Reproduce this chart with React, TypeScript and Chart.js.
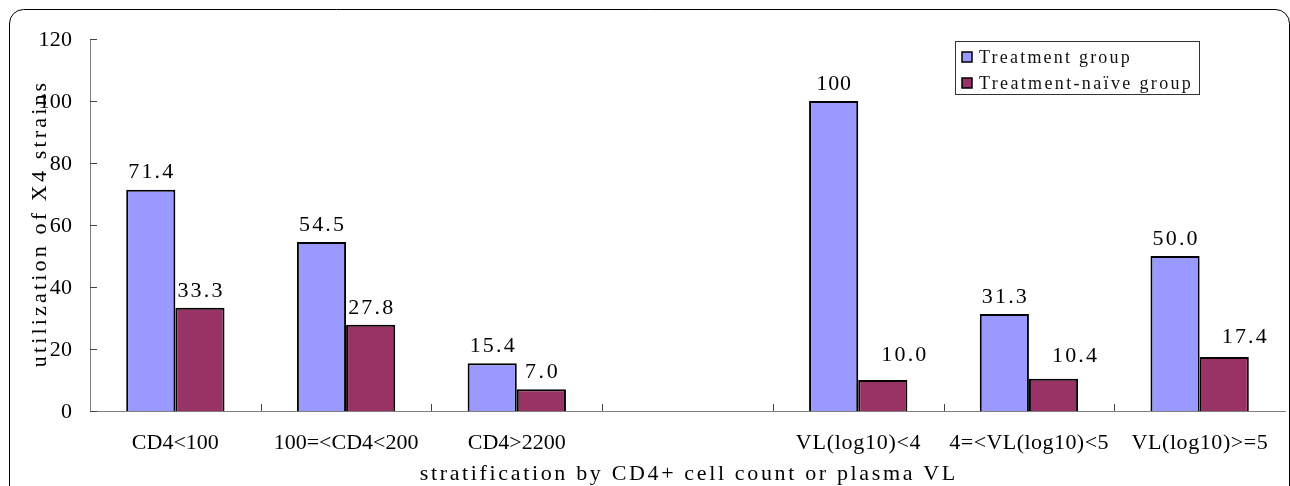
import React, { useEffect, useRef } from "react";
import { Chart, registerables } from "chart.js";

Chart.register(...registerables);

const categories = [
  "CD4<100",
  "100=<CD4<200",
  "CD4>2200",
  "",
  "VL(log10)<4",
  "4=<VL(log10)<5",
  "VL(log10)>=5",
];
const treatmentValues = [71.4, 54.5, 15.4, null, 100, 31.3, 50.0];
const naiveValues = [33.3, 27.8, 7.0, null, 10.0, 10.4, 17.4];
const seriesNames = ["Treatment group", "Treatment-naïve group"];
const seriesColors = ["#9999FF", "#993366"];
const yTickValues = [0, 20, 40, 60, 80, 100, 120];
const xTitle = "stratification by CD4+ cell count or plasma VL";
const yTitle = "utilization of X4 strains";

const FONT = '"Liberation Serif", "Times New Roman", serif';

function fmt(v: number): string {
  return v >= 100 ? String(v) : v.toFixed(1);
}

function drawSpaced(
  ctx: CanvasRenderingContext2D,
  text: string,
  x: number,
  y: number,
  size: number,
  adv: number,
  align: "left" | "center" | "right",
  color = "#000"
) {
  ctx.save();
  ctx.font = `${size}px ${FONT}`;
  (ctx as any).letterSpacing = "0px";
  const w = ctx.measureText(text).width;
  const n = text.length;
  const ls = n > 1 ? Math.max(0, (adv * n - w) / n) : 0;
  const vis = w + (n - 1) * ls;
  const sx = align === "left" ? x : align === "center" ? x - vis / 2 : x - vis;
  (ctx as any).letterSpacing = ls + "px";
  ctx.textAlign = "left";
  ctx.textBaseline = "middle";
  ctx.fillStyle = color;
  ctx.fillText(text, sx, y);
  ctx.restore();
}

const labelNudges: Record<string, [number, number]> = {
  "1:4": [21, -8],
  "1:5": [21, -6],
  "1:6": [20, -3],
};

const decorPlugin = {
  id: "decor",
  afterDraw(chart: any) {
    const ctx: CanvasRenderingContext2D = chart.ctx;
    const x = chart.scales.x;
    const y = chart.scales.y;
    const area = chart.chartArea;

    // frame
    ctx.save();
    ctx.strokeStyle = "#000";
    ctx.lineWidth = 1;
    ctx.beginPath();
    ctx.moveTo(9.5, 520);
    ctx.lineTo(9.5, 23);
    ctx.arcTo(9.5, 9.5, 23, 9.5, 14);
    ctx.lineTo(1276, 9.5);
    ctx.arcTo(1289.5, 9.5, 1289.5, 23, 14);
    ctx.lineTo(1289.5, 520);
    ctx.stroke();
    ctx.restore();

    // inward ticks
    ctx.save();
    ctx.strokeStyle = "#444";
    ctx.lineWidth = 1;
    ctx.beginPath();
    for (const v of yTickValues) {
      const py = Math.round(y.getPixelForValue(v)) + 0.5;
      ctx.moveTo(area.left, py);
      ctx.lineTo(area.left + 7, py);
    }
    for (let i = 1; i < categories.length; i++) {
      const px = Math.round((x.getPixelForTick(i - 1) + x.getPixelForTick(i)) / 2) + 0.5;
      ctx.moveTo(px, area.bottom);
      ctx.lineTo(px, area.bottom - 7);
    }
    ctx.stroke();
    ctx.restore();

    // y tick labels
    for (const v of yTickValues) {
      drawSpaced(ctx, String(v), 72, y.getPixelForValue(v) + 1, 22, 11.2, "right");
    }
    // x tick labels
    categories.forEach((c, i) => {
      if (!c) return;
      drawSpaced(ctx, c, x.getPixelForTick(i), 443, 22, 11.4, "center");
    });
    // axis titles
    drawSpaced(ctx, xTitle, (area.left + area.right) / 2, 474, 22, 11.7, "center");
    ctx.save();
    ctx.translate(40, (area.top + area.bottom) / 2);
    ctx.rotate(-Math.PI / 2);
    drawSpaced(ctx, yTitle, 0, 0, 22, 11.5, "center");
    ctx.restore();

    // data labels
    chart.data.datasets.forEach((ds: any, di: number) => {
      const meta = chart.getDatasetMeta(di);
      meta.data.forEach((bar: any, i: number) => {
        const v = ds.data[i];
        if (v === null || v === undefined) return;
        const nudge = labelNudges[`${di}:${i}`] || [0, 0];
        drawSpaced(ctx, fmt(v), bar.x + nudge[0], bar.y - 17 + nudge[1], 22, 11.8, "center");
      });
    });

    // legend
    ctx.save();
    ctx.fillStyle = "#fff";
    ctx.fillRect(955.5, 41.5, 244, 53);
    ctx.strokeStyle = "#333";
    ctx.lineWidth = 1;
    ctx.strokeRect(955.5, 41.5, 244, 53);
    const rows = [57, 83];
    chart.data.datasets.forEach((ds: any, di: number) => {
      const cy = rows[di];
      ctx.fillStyle = ds.backgroundColor;
      ctx.fillRect(962, cy - 5, 10, 10);
      ctx.strokeStyle = "#000";
      ctx.lineWidth = 1.5;
      ctx.strokeRect(962, cy - 5, 10, 10);
      drawSpaced(ctx, ds.label, 979, cy + 1, 18, 10.2, "left", "#111");
    });
    ctx.restore();
  },
};

export default function App() {
  const ref = useRef<HTMLCanvasElement | null>(null);
  useEffect(() => {
    if (!ref.current) return;
    const chart = new Chart(ref.current, {
      type: "bar",
      data: {
        labels: categories,
        datasets: [
          {
            label: seriesNames[0],
            data: treatmentValues as any,
            backgroundColor: seriesColors[0],
            borderColor: "#000",
            borderWidth: 2,
            categoryPercentage: 0.576,
            barPercentage: 1,
          },
          {
            label: seriesNames[1],
            data: naiveValues as any,
            backgroundColor: seriesColors[1],
            borderColor: "#000",
            borderWidth: 2,
            categoryPercentage: 0.576,
            barPercentage: 1,
          },
        ],
      },
      options: {
        animation: false,
        responsive: true,
        maintainAspectRatio: false,
        layout: { padding: { left: 82, top: 39, right: 5, bottom: 67 } },
        plugins: {
          legend: { display: false },
          tooltip: { enabled: false },
        },
        scales: {
          x: {
            type: "category",
            grid: { display: false },
            ticks: { display: false },
            border: { display: true, color: "#808080", width: 1 },
          },
          y: {
            min: 0,
            max: 120,
            ticks: { display: false, stepSize: 20 },
            grid: { display: false },
            border: { display: true, color: "#808080", width: 1 },
          },
        },
      },
      plugins: [decorPlugin],
    });
    return () => chart.destroy();
  }, []);
  return (
    <div style={{ position: "absolute", left: 0, top: 0, width: 1290, height: 486 }}>
      <canvas ref={ref} />
    </div>
  );
}
